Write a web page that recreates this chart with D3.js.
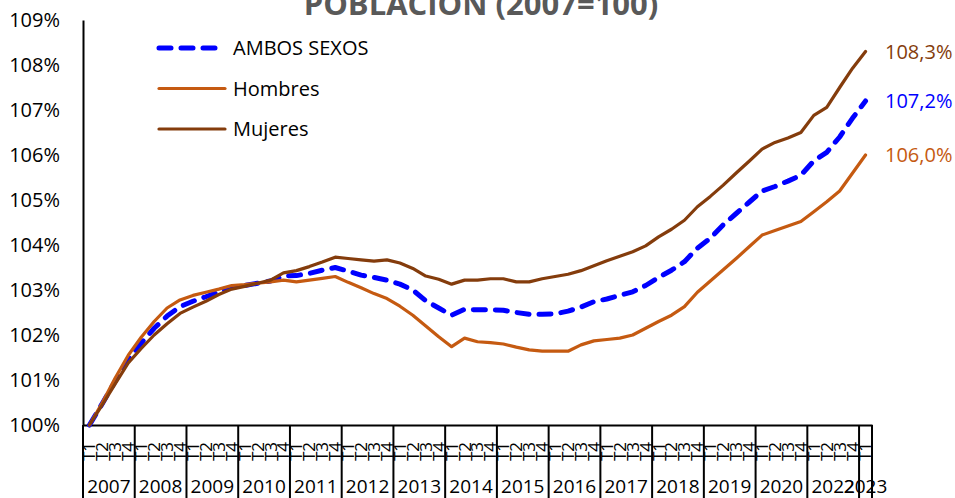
<!DOCTYPE html>
<html>
<head>
<meta charset="utf-8">
<script src="https://cdn.jsdelivr.net/npm/d3@7"></script>
<style>
  body { margin: 0; background: #fff; }
  svg { font-family: "Open Sans", sans-serif; }
</style>
</head>
<body>
<div id="chart"></div>
<script>
// years on the category axis (2021 is missing in the source), quarters per year
const years = [2007, 2008, 2009, 2010, 2011, 2012, 2013, 2014, 2015, 2016, 2017, 2018, 2019, 2020, 2022, 2023];
const quartersPerYear = [4, 4, 4, 4, 4, 4, 4, 4, 4, 4, 4, 4, 4, 4, 4, 1];
const quarterLabels = ['T1', 'T2', 'T3', 'T4'];
const yTicks = [100, 101, 102, 103, 104, 105, 106, 107, 108, 109];

const ambos = [100.0, 100.48, 100.98, 101.45, 101.82, 102.15, 102.42, 102.63, 102.75, 102.85, 102.96, 103.06,
  103.1, 103.15, 103.2, 103.31, 103.32, 103.37, 103.44, 103.5, 103.42, 103.33, 103.28, 103.22,
  103.13, 103.0, 102.76, 102.6, 102.44, 102.57, 102.56, 102.56, 102.55, 102.5, 102.46, 102.46,
  102.47, 102.53, 102.62, 102.74, 102.8, 102.88, 102.96, 103.1, 103.28, 103.44, 103.63, 103.93,
  104.15, 104.45, 104.7, 104.95, 105.2, 105.3, 105.42, 105.55, 105.87, 106.06, 106.4, 106.82, 107.2];
const hombres = [100.0, 100.5, 101.05, 101.55, 101.95, 102.3, 102.6, 102.78, 102.88, 102.95, 103.02, 103.1,
  103.12, 103.15, 103.18, 103.22, 103.18, 103.22, 103.26, 103.3, 103.17, 103.05, 102.92, 102.81,
  102.64, 102.44, 102.2, 101.96, 101.74, 101.93, 101.85, 101.83, 101.8, 101.73, 101.67, 101.64,
  101.64, 101.64, 101.78, 101.87, 101.9, 101.93, 102.0, 102.15, 102.3, 102.44, 102.63, 102.95,
  103.2, 103.45, 103.7, 103.96, 104.22, 104.32, 104.42, 104.52, 104.74, 104.96, 105.2, 105.6, 106.0];
const mujeres = [100.0, 100.45, 100.92, 101.38, 101.7, 102.0, 102.25, 102.48, 102.62, 102.75, 102.9, 103.02,
  103.08, 103.15, 103.22, 103.38, 103.43, 103.52, 103.62, 103.73, 103.7, 103.67, 103.64, 103.67,
  103.6, 103.48, 103.31, 103.24, 103.13, 103.22, 103.22, 103.25, 103.25, 103.18, 103.18, 103.25,
  103.3, 103.35, 103.43, 103.54, 103.65, 103.75, 103.85, 103.98, 104.18, 104.35, 104.55, 104.85,
  105.08, 105.33, 105.6, 105.86, 106.13, 106.28, 106.38, 106.5, 106.88, 107.06, 107.5, 107.93, 108.3];

const seriesNames = ['AMBOS SEXOS', 'Hombres', 'Mujeres'];

const width = 955, height = 498;
const plot = { left: 83, right: 872, top: 20, bottom: 425 };

// build the category list: one entry per quarter
const periods = [];
years.forEach((yr, yi) => {
  for (let q = 0; q < quartersPerYear[yi]; q++) periods.push({ year: yr, q: quarterLabels[q], key: yr + quarterLabels[q] });
});

const x = d3.scaleBand().domain(periods.map(d => d.key)).range([plot.left, plot.right]);
const y = d3.scaleLinear().domain([100, 109]).range([plot.bottom, plot.top]);
const cx = k => x(k) + x.bandwidth() / 2;

const svg = d3.select('#chart').append('svg')
  .attr('width', width)
  .attr('height', height);

// title, cut at the top like the source
svg.append('text')
  .attr('x', 481)
  .attr('y', 15)
  .attr('text-anchor', 'middle')
  .style('font-size', '31px')
  .style('font-weight', 'bold')
  .style('fill', '#595959')
  .text('POBLACIÓN (2007=100)');

// y axis
const yAxis = svg.append('g')
  .attr('transform', 'translate(' + plot.left + ',0)')
  .call(d3.axisLeft(y).tickValues(yTicks).tickSize(0).tickPadding(23).tickFormat(d => d + '%'));
yAxis.select('.domain').attr('stroke', '#000').attr('stroke-width', 2);
yAxis.selectAll('text').style('font-size', '20px').style('fill', '#000').style('font-family', '"Open Sans", sans-serif');
svg.append('line')
  .attr('x1', plot.left).attr('x2', plot.left)
  .attr('y1', plot.bottom).attr('y2', height)
  .attr('stroke', '#000').attr('stroke-width', 2);

// x axis with quarter labels
const xAxis = svg.append('g')
  .attr('transform', 'translate(0,' + plot.bottom + ')')
  .call(d3.axisBottom(x).tickSize(0).tickFormat((d, i) => periods[i].q));
xAxis.select('.domain').attr('stroke', '#000').attr('stroke-width', 2);
xAxis.selectAll('text')
  .attr('transform', 'rotate(-90)')
  .attr('x', -36)
  .attr('y', 0)
  .attr('dy', '0.35em')
  .attr('text-anchor', 'start')
  .style('font-size', '17px')
  .style('fill', '#000')
  .style('font-family', '"Open Sans", sans-serif');

// year groups: separators and labels
const groups = years.map((yr, yi) => {
  const ks = periods.filter(p => p.year === yr).map(p => p.key);
  return { year: yr, x0: x(ks[0]), x1: x(ks[ks.length - 1]) + x.bandwidth() };
});
svg.selectAll('.sep')
  .data(groups)
  .enter()
  .append('line')
  .attr('class', 'sep')
  .attr('x1', d => d.x1).attr('x2', d => d.x1)
  .attr('y1', plot.bottom).attr('y2', height)
  .attr('stroke', '#000').attr('stroke-width', 2);
svg.selectAll('.year')
  .data(groups)
  .enter()
  .append('text')
  .attr('class', 'year')
  .attr('x', d => (d.x0 + d.x1) / 2)
  .attr('y', 493)
  .attr('text-anchor', 'middle')
  .style('font-size', '19px')
  .text(d => d.year);

// lines
const line = d3.line()
  .x((d, i) => cx(periods[i].key))
  .y(d => y(d));

const series = [
  { name: seriesNames[0], values: ambos, color: '#0000FF', width: 5, dash: '12 10' },
  { name: seriesNames[1], values: hombres, color: '#C55A11', width: 3.2, dash: null },
  { name: seriesNames[2], values: mujeres, color: '#843C0C', width: 3.2, dash: null }
];

series.forEach(s => {
  svg.append('path')
    .datum(s.values)
    .attr('d', line)
    .attr('fill', 'none')
    .attr('stroke', s.color)
    .attr('stroke-width', s.width)
    .attr('stroke-linecap', 'round')
    .attr('stroke-linejoin', 'round')
    .attr('stroke-dasharray', s.dash);

  const last = s.values[s.values.length - 1];
  svg.append('text')
    .attr('x', 885)
    .attr('y', y(last))
    .attr('dy', '0.35em')
    .style('font-size', '20px')
    .style('fill', s.color)
    .text(d3.format('.1f')(last).replace('.', ',') + '%');
});

// legend
const legend = svg.selectAll('.legend')
  .data(series)
  .enter()
  .append('g')
  .attr('class', 'legend')
  .attr('transform', (d, i) => 'translate(157,' + (48 + i * 40.5) + ')');
legend.append('line')
  .attr('x1', 2).attr('x2', 68)
  .attr('stroke', d => d.color)
  .attr('stroke-width', d => d.width)
  .attr('stroke-linecap', 'round')
  .attr('stroke-dasharray', d => d.dash);
legend.append('text')
  .attr('x', 76)
  .attr('dy', '0.35em')
  .style('font-size', '20px')
  .text(d => d.name);
</script>
</body>
</html>
